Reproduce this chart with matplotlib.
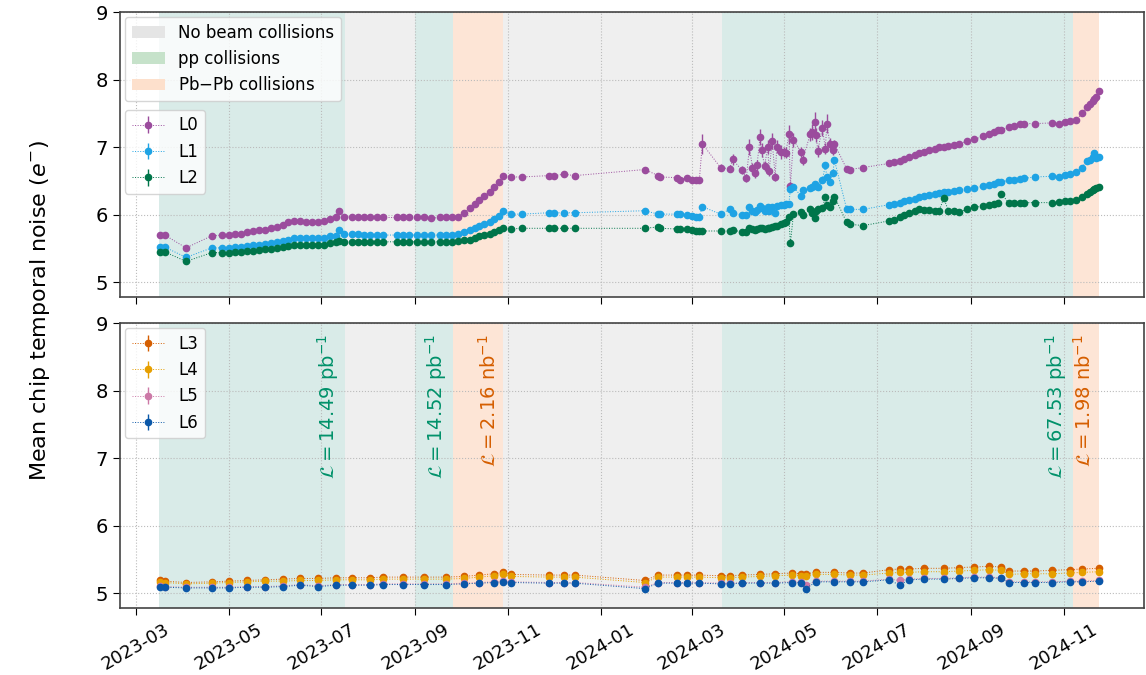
import matplotlib
matplotlib.use('Agg')
import matplotlib.pyplot as plt
import matplotlib.dates as mdates
from matplotlib.patches import Patch
import numpy as np

# measurement dates, inner barrel (L0-L2)
dates_top = [
    '2023-03-17', '2023-03-20', '2023-04-03', '2023-04-20', '2023-04-27', '2023-05-01', '2023-05-05', '2023-05-09', '2023-05-13', '2023-05-17',
    '2023-05-21', '2023-05-25', '2023-05-29', '2023-06-02', '2023-06-06', '2023-06-09', '2023-06-13', '2023-06-17', '2023-06-21', '2023-06-25',
    '2023-06-29', '2023-07-03', '2023-07-07', '2023-07-11', '2023-07-13', '2023-07-16', '2023-07-21', '2023-07-25', '2023-07-29', '2023-08-02',
    '2023-08-07', '2023-08-11', '2023-08-20', '2023-08-24', '2023-08-28', '2023-09-02', '2023-09-07', '2023-09-11', '2023-09-17', '2023-09-21',
    '2023-09-25', '2023-09-29', '2023-10-03', '2023-10-07', '2023-10-10', '2023-10-13', '2023-10-16', '2023-10-20', '2023-10-23', '2023-10-26',
    '2023-10-29', '2023-11-03', '2023-11-10', '2023-11-28', '2023-12-01', '2023-12-08', '2023-12-15', '2024-01-30', '2024-02-08', '2024-02-09',
    '2024-02-20', '2024-02-22', '2024-02-27', '2024-03-01', '2024-03-04', '2024-03-06', '2024-03-08', '2024-03-20', '2024-03-26', '2024-03-28',
    '2024-04-03', '2024-04-06', '2024-04-08', '2024-04-10', '2024-04-12', '2024-04-13', '2024-04-15', '2024-04-16', '2024-04-18', '2024-04-20',
    '2024-04-21', '2024-04-23', '2024-04-25', '2024-04-26', '2024-04-29', '2024-05-01', '2024-05-02', '2024-05-04', '2024-05-05', '2024-05-07',
    '2024-05-12', '2024-05-13', '2024-05-18', '2024-05-19', '2024-05-21', '2024-05-22', '2024-05-23', '2024-05-26', '2024-05-28', '2024-05-29',
    '2024-05-31', '2024-06-02', '2024-06-03', '2024-06-11', '2024-06-13', '2024-06-22', '2024-07-09', '2024-07-12', '2024-07-16', '2024-07-19',
    '2024-07-22', '2024-07-26', '2024-07-29', '2024-08-01', '2024-08-04', '2024-08-08', '2024-08-11', '2024-08-14', '2024-08-17', '2024-08-21',
    '2024-08-24', '2024-08-29', '2024-09-03', '2024-09-09', '2024-09-13', '2024-09-16', '2024-09-19', '2024-09-21', '2024-09-26', '2024-09-29',
    '2024-10-03', '2024-10-06', '2024-10-13', '2024-10-24', '2024-10-29', '2024-11-02', '2024-11-05', '2024-11-09', '2024-11-13', '2024-11-16',
    '2024-11-18', '2024-11-20', '2024-11-21', '2024-11-22', '2024-11-24']

L0 = [5.70, 5.70, 5.51, 5.69, 5.70, 5.70, 5.71, 5.72, 5.74, 5.76,
      5.77, 5.78, 5.80, 5.82, 5.85, 5.89, 5.91, 5.91, 5.90, 5.89,
      5.89, 5.91, 5.94, 5.96, 6.06, 5.97, 5.97, 5.96, 5.96, 5.96,
      5.96, 5.96, 5.96, 5.96, 5.96, 5.96, 5.96, 5.95, 5.96, 5.96,
      5.96, 5.97, 6.03, 6.10, 6.16, 6.22, 6.28, 6.33, 6.41, 6.48,
      6.58, 6.56, 6.56, 6.58, 6.58, 6.60, 6.58, 6.67, 6.58, 6.56,
      6.55, 6.52, 6.55, 6.52, 6.51, 6.51, 7.05, 6.70, 6.68, 6.82,
      6.66, 6.54, 7.00, 6.70, 6.62, 6.73, 7.15, 6.96, 6.72, 7.00,
      6.65, 7.09, 6.56, 7.01, 6.93, 6.93, 6.92, 7.19, 6.43, 7.11,
      6.93, 6.81, 7.19, 7.23, 7.38, 7.18, 6.94, 7.29, 6.98, 7.35,
      7.05, 6.96, 7.05, 6.68, 6.67, 6.70, 6.76, 6.78, 6.80, 6.82,
      6.85, 6.88, 6.91, 6.93, 6.96, 6.98, 7.00, 7.01, 7.02, 7.03,
      7.05, 7.09, 7.12, 7.16, 7.19, 7.22, 7.25, 7.26, 7.30, 7.32,
      7.34, 7.35, 7.35, 7.36, 7.35, 7.37, 7.39, 7.40, 7.50, 7.60,
      7.64, 7.69, 7.72, 7.74, 7.84]

L0_err = [0.02, 0.02, 0.02, 0.02, 0.02, 0.02, 0.02, 0.02, 0.02, 0.02,
          0.02, 0.02, 0.02, 0.02, 0.02, 0.02, 0.02, 0.02, 0.02, 0.02,
          0.02, 0.02, 0.02, 0.02, 0.04, 0.02, 0.02, 0.02, 0.02, 0.02,
          0.02, 0.02, 0.02, 0.02, 0.02, 0.02, 0.02, 0.02, 0.02, 0.02,
          0.02, 0.02, 0.02, 0.02, 0.02, 0.02, 0.02, 0.02, 0.02, 0.02,
          0.02, 0.02, 0.02, 0.02, 0.02, 0.02, 0.02, 0.02, 0.02, 0.02,
          0.02, 0.02, 0.02, 0.02, 0.02, 0.02, 0.15, 0.05, 0.05, 0.08,
          0.06, 0.06, 0.12, 0.07, 0.07, 0.08, 0.12, 0.10, 0.07, 0.10,
          0.07, 0.12, 0.06, 0.10, 0.10, 0.08, 0.08, 0.14, 0.06, 0.10,
          0.08, 0.08, 0.10, 0.12, 0.14, 0.10, 0.09, 0.12, 0.08, 0.14,
          0.08, 0.07, 0.06, 0.03, 0.02, 0.02, 0.02, 0.02, 0.02, 0.02,
          0.02, 0.02, 0.02, 0.02, 0.02, 0.02, 0.02, 0.02, 0.02, 0.02,
          0.02, 0.02, 0.02, 0.02, 0.02, 0.02, 0.02, 0.02, 0.02, 0.02,
          0.02, 0.02, 0.02, 0.02, 0.02, 0.02, 0.02, 0.02, 0.02, 0.02,
          0.02, 0.02, 0.02, 0.02, 0.03]

L1 = [5.53, 5.52, 5.37, 5.51, 5.51, 5.51, 5.52, 5.52, 5.54, 5.55,
      5.56, 5.57, 5.58, 5.59, 5.61, 5.63, 5.65, 5.65, 5.65, 5.65,
      5.66, 5.66, 5.68, 5.69, 5.77, 5.71, 5.71, 5.71, 5.70, 5.70,
      5.70, 5.70, 5.70, 5.70, 5.70, 5.70, 5.70, 5.70, 5.70, 5.70,
      5.70, 5.71, 5.74, 5.77, 5.80, 5.83, 5.86, 5.89, 5.94, 5.98,
      6.05, 6.01, 6.01, 6.03, 6.03, 6.03, 6.03, 6.06, 6.01, 6.01,
      6.01, 6.01, 6.00, 5.98, 5.97, 5.97, 6.12, 6.01, 6.08, 6.02,
      6.00, 5.99, 6.11, 6.06, 6.04, 6.07, 6.13, 6.10, 6.05, 6.11,
      6.06, 6.12, 6.02, 6.13, 6.15, 6.14, 6.16, 6.16, 6.38, 6.41,
      6.28, 6.36, 6.39, 6.41, 6.46, 6.43, 6.41, 6.51, 6.73, 6.56,
      6.49, 6.62, 6.81, 6.09, 6.08, 6.08, 6.15, 6.16, 6.18, 6.20,
      6.22, 6.24, 6.26, 6.28, 6.30, 6.31, 6.32, 6.33, 6.34, 6.35,
      6.36, 6.38, 6.40, 6.42, 6.44, 6.46, 6.48, 6.49, 6.51, 6.52,
      6.53, 6.54, 6.56, 6.57, 6.56, 6.59, 6.61, 6.63, 6.70, 6.79,
      6.81, 6.86, 6.91, 6.84, 6.85]

L2 = [5.45, 5.45, 5.31, 5.44, 5.44, 5.44, 5.45, 5.45, 5.46, 5.47,
      5.48, 5.49, 5.50, 5.51, 5.52, 5.54, 5.55, 5.55, 5.55, 5.55,
      5.55, 5.56, 5.58, 5.59, 5.61, 5.60, 5.60, 5.60, 5.59, 5.59,
      5.60, 5.60, 5.60, 5.60, 5.60, 5.60, 5.60, 5.60, 5.60, 5.60,
      5.60, 5.61, 5.62, 5.63, 5.65, 5.68, 5.70, 5.72, 5.75, 5.77,
      5.81, 5.79, 5.80, 5.80, 5.80, 5.80, 5.80, 5.80, 5.82, 5.80,
      5.79, 5.79, 5.79, 5.77, 5.76, 5.76, 5.76, 5.76, 5.76, 5.77,
      5.75, 5.75, 5.81, 5.79, 5.78, 5.79, 5.80, 5.80, 5.79, 5.81,
      5.80, 5.82, 5.83, 5.84, 5.86, 5.88, 5.90, 5.96, 5.58, 6.01,
      6.04, 5.99, 6.08, 6.02, 5.95, 6.05, 6.09, 6.10, 6.26, 6.15,
      6.11, 6.20, 6.27, 5.89, 5.86, 5.84, 5.91, 5.93, 5.96, 5.99,
      6.03, 6.05, 6.08, 6.07, 6.07, 6.06, 6.06, 6.25, 6.06, 6.05,
      6.04, 6.08, 6.11, 6.13, 6.14, 6.16, 6.18, 6.31, 6.17, 6.17,
      6.17, 6.18, 6.18, 6.18, 6.19, 6.20, 6.21, 6.22, 6.27, 6.31,
      6.33, 6.36, 6.38, 6.39, 6.41]

# outer barrel (L3-L6)
dates_bot = [
    '2023-03-17', '2023-03-20', '2023-04-03', '2023-04-20', '2023-05-01', '2023-05-13', '2023-05-25', '2023-06-06', '2023-06-17', '2023-06-29',
    '2023-07-11', '2023-07-21', '2023-08-02', '2023-08-11', '2023-08-24', '2023-09-07', '2023-09-21', '2023-10-03', '2023-10-13', '2023-10-23',
    '2023-10-29', '2023-11-03', '2023-11-28', '2023-12-08', '2023-12-15', '2024-01-30', '2024-02-08', '2024-02-20', '2024-02-27', '2024-03-06',
    '2024-03-20', '2024-03-26', '2024-04-03', '2024-04-15', '2024-04-25', '2024-05-06', '2024-05-12', '2024-05-15', '2024-05-22', '2024-06-03',
    '2024-06-13', '2024-06-22', '2024-07-09', '2024-07-16', '2024-07-22', '2024-08-01', '2024-08-14', '2024-08-24', '2024-09-03', '2024-09-13',
    '2024-09-21', '2024-09-26', '2024-10-06', '2024-10-13', '2024-10-24', '2024-11-05', '2024-11-13', '2024-11-24']

L3 = [5.19, 5.18, 5.16, 5.17, 5.18, 5.19, 5.20, 5.21, 5.22, 5.22,
      5.23, 5.23, 5.23, 5.24, 5.24, 5.24, 5.24, 5.25, 5.27, 5.29,
      5.31, 5.28, 5.27, 5.27, 5.27, 5.19, 5.27, 5.27, 5.27, 5.27,
      5.26, 5.26, 5.27, 5.28, 5.29, 5.30, 5.29, 5.29, 5.31, 5.31,
      5.30, 5.30, 5.35, 5.36, 5.36, 5.37, 5.37, 5.38, 5.39, 5.40,
      5.39, 5.33, 5.33, 5.33, 5.34, 5.35, 5.36, 5.37]
L4 = [5.17, 5.16, 5.14, 5.15, 5.16, 5.17, 5.18, 5.18, 5.19, 5.19,
      5.20, 5.20, 5.20, 5.21, 5.21, 5.21, 5.21, 5.22, 5.24, 5.26,
      5.28, 5.25, 5.24, 5.24, 5.24, 5.16, 5.24, 5.24, 5.24, 5.24,
      5.23, 5.23, 5.24, 5.25, 5.26, 5.27, 5.26, 5.26, 5.28, 5.28,
      5.27, 5.27, 5.30, 5.31, 5.31, 5.32, 5.32, 5.33, 5.34, 5.35,
      5.34, 5.28, 5.29, 5.29, 5.29, 5.30, 5.31, 5.32]
L5 = [5.11, 5.10, 5.09, 5.09, 5.09, 5.10, 5.10, 5.11, 5.13, 5.11,
      5.13, 5.13, 5.13, 5.14, 5.14, 5.14, 5.14, 5.15, 5.16, 5.17,
      5.18, 5.17, 5.16, 5.16, 5.16, 5.09, 5.16, 5.16, 5.16, 5.16,
      5.15, 5.15, 5.16, 5.16, 5.16, 5.17, 5.17, 5.12, 5.18, 5.18,
      5.18, 5.18, 5.21, 5.19, 5.21, 5.22, 5.22, 5.23, 5.24, 5.24,
      5.23, 5.17, 5.17, 5.17, 5.17, 5.18, 5.18, 5.19]
L6 = [5.10, 5.09, 5.08, 5.08, 5.08, 5.09, 5.09, 5.10, 5.12, 5.10,
      5.12, 5.12, 5.12, 5.13, 5.13, 5.13, 5.13, 5.14, 5.15, 5.16,
      5.17, 5.16, 5.15, 5.15, 5.15, 5.07, 5.15, 5.15, 5.15, 5.15,
      5.14, 5.14, 5.15, 5.15, 5.15, 5.16, 5.16, 5.07, 5.17, 5.17,
      5.17, 5.17, 5.20, 5.12, 5.20, 5.21, 5.21, 5.22, 5.23, 5.23,
      5.22, 5.16, 5.16, 5.16, 5.16, 5.17, 5.17, 5.18]

# beam periods
span_start = ['2023-03-16', '2023-07-17', '2023-09-01', '2023-09-26', '2023-10-29', '2024-03-21', '2024-11-07']
span_end = ['2023-07-17', '2023-09-01', '2023-09-26', '2023-10-29', '2024-03-21', '2024-11-07', '2024-11-24']
span_kind = ['pp', 'none', 'pp', 'pbpb', 'none', 'pp', 'pbpb']

lumi_text = [r'$\mathcal{L} = 14.49$ pb$^{-1}$', r'$\mathcal{L} = 14.52$ pb$^{-1}$', r'$\mathcal{L} = 2.16$ nb$^{-1}$',
             r'$\mathcal{L} = 67.53$ pb$^{-1}$', r'$\mathcal{L} = 1.98$ nb$^{-1}$']
lumi_date = ['2023-07-17', '2023-09-26', '2023-10-29', '2024-11-07', '2024-11-24']
lumi_kind = ['pp', 'pp', 'pbpb', 'pp', 'pbpb']

span_col = {'none': '#efefef', 'pp': '#d9ebe8', 'pbpb': '#fde5d6'}
leg_col = {'none': '#e5e5e5', 'pp': '#c6e2ca', 'pbpb': '#fde0cc'}
text_col = {'pp': '#00916a', 'pbpb': '#d55e00'}

colors_top = ['#9b4c9d', '#1ea3e4', '#00754a']
colors_bot = ['#d55e00', '#e69f00', '#cc79a7', '#0a57a8']

dt = lambda s: np.array(s, dtype='datetime64[D]')

fig, (ax1, ax2) = plt.subplots(nrows=2, ncols=1, sharex=True, figsize=(11.46, 6.75), dpi=100)
fig.subplots_adjust(left=0.1047, right=0.998, top=0.982, bottom=0.099, hspace=0.091)

for ax in (ax1, ax2):
    for s, e, k in zip(span_start, span_end, span_kind):
        ax.axvspan(dt(s), dt(e), color=span_col[k], lw=0, zorder=0)
    ax.grid(which='major', color='#bbbbbb', linestyle=':', linewidth=0.8, zorder=1)
    ax.set_ylim(4.78, 9.0)
    ax.set_yticks([5, 6, 7, 8, 9])
    ax.tick_params(labelsize=14, length=5)
    for sp in ax.spines.values():
        sp.set_color('#444444')
        sp.set_linewidth(1.2)

x_top = dt(dates_top)
x_bot = dt(dates_bot)

top_series = [('L0', L0, L0_err), ('L1', L1, 0.01), ('L2', L2, 0.01)]
for (name, vals, err), c in zip(top_series, colors_top):
    ax1.errorbar(x_top, vals, yerr=err, fmt='o:', color=c, ms=4.5, lw=0.7,
                 elinewidth=1.0, ecolor=c, capsize=0, label=name, zorder=3)

bot_series = [('L3', L3), ('L4', L4), ('L5', L5), ('L6', L6)]
for (name, vals), c in zip(bot_series, colors_bot):
    ax2.errorbar(x_bot, vals, yerr=0.01, fmt='o:', color=c, ms=4.5, lw=0.7,
                 elinewidth=1.0, ecolor=c, capsize=0, label=name, zorder=3)

handles = [Patch(facecolor=leg_col['none'], label='No beam collisions'),
           Patch(facecolor=leg_col['pp'], label='pp collisions'),
           Patch(facecolor=leg_col['pbpb'], label='Pb$-$Pb collisions')]
leg_a = ax1.legend(handles=handles, loc='upper left', fontsize=12, borderaxespad=0.3)
ax1.add_artist(leg_a)
ax1.legend(loc='upper left', bbox_to_anchor=(0.0, 0.675), fontsize=12, borderaxespad=0.3)
ax2.legend(loc='upper left', fontsize=12, borderaxespad=0.3)

for t, d, k in zip(lumi_text, lumi_date, lumi_kind):
    ax2.annotate(t, xy=(dt(d), 9.0), xytext=(-3, -8), textcoords='offset points',
                 rotation=90, ha='right', va='top', fontsize=14, color=text_col[k], zorder=4)

ax2.xaxis.set_major_locator(mdates.MonthLocator(bymonth=[1, 3, 5, 7, 9, 11]))
ax2.xaxis.set_major_formatter(mdates.DateFormatter('%Y-%m'))
ax2.set_xlim(np.datetime64('2023-02-18T12:00'), np.datetime64('2024-12-23T16:00'))
plt.setp(ax2.get_xticklabels(), rotation=30, ha='center', fontsize=13)

fig.text(0.035, 0.54, 'Mean chip temporal noise ($e^{-}$)', rotation=90,
         ha='center', va='center', fontsize=16)

fig.savefig('out.png', dpi=100)
